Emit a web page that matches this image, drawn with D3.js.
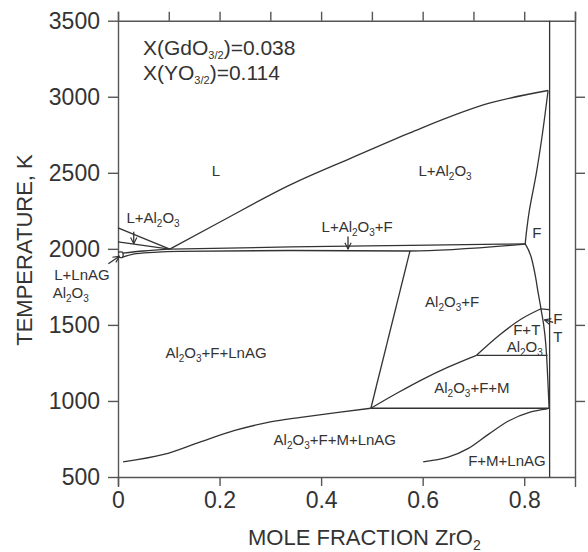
<!DOCTYPE html>
<html>
<head>
<meta charset="utf-8">
<script src="https://cdn.jsdelivr.net/npm/d3@7"></script>
<style>
  body { margin: 0; background: #fff; }
  svg { font-family: "Liberation Sans", Arial, sans-serif; }
  .axis path, .axis line { stroke: #555; stroke-width: 1.4; }
  .axis text { fill: #333; font-size: 23px; }
  .phase { fill: none; stroke: #333; stroke-width: 1.3; }
  .lbl { fill: #333; font-size: 15px; }
</style>
</head>
<body>
<svg id="chart" width="588" height="552"></svg>
<script>
// phase boundaries, [mole fraction ZrO2, temperature K]
const liquidus = [[0.102,1998],[0.2,2175],[0.34,2422],[0.46,2598],[0.575,2763],[0.733,2959],[0.847,3041]];
const fUpper = [[0.847,3041],[0.836,2760],[0.824,2500],[0.81,2250],[0.804,2100],[0.802,2033]];
const fLower = [[0.802,2033],[0.815,1930],[0.822,1820],[0.828,1700],[0.833,1606],[0.844,1300],[0.849,952]];
const al2o3Upper = [[0,2138],[0.102,1998]];
const al2o3Lower = [[0,2046],[0.102,1998]];
const solidusUpper = [[0.102,1998],[0.34,2013],[0.575,2023],[0.802,2033]];
const solidusLower = [[0.009,1945],[0.03,1965],[0.07,1977],[0.12,1984],[0.34,1989],[0.575,1986],[0.802,2031]];
const lnagTop = [[0.009,1972],[0.05,1986],[0.102,1998]];
const lnagBox = [[0,1978],[0.009,1978],[0.009,1945],[0,1945]];
const al2o3FLeft = [[0.575,1986],[0.498,952]];
const fmBoundary = [[0.498,952],[0.55,1052],[0.6,1142],[0.65,1222],[0.706,1300]];
const ftBoundary = [[0.706,1300],[0.752,1435],[0.795,1540],[0.833,1606]];
const tTop = [[0.833,1606],[0.849,1600]];
const iso1300 = [[0.706,1300],[0.846,1300]];
const iso952 = [[0.498,952],[0.849,952]];
const lnagSolvus = [[0.01,600],[0.09,648],[0.16,728],[0.23,806],[0.30,862],[0.36,892],[0.43,923],[0.498,952]];
const fmlSolvus = [[0.601,600],[0.65,630],[0.69,688],[0.73,782],[0.77,870],[0.81,925],[0.846,948]];
const zrLimit = [[0.85,3500],[0.85,500]];
const curves = [liquidus, fUpper, fLower, al2o3Upper, al2o3Lower, solidusUpper, solidusLower,
  lnagTop, lnagBox, al2o3FLeft, fmBoundary, ftBoundary, tTop, iso1300, iso952, lnagSolvus, fmlSolvus, zrLimit];

// phase labels: text parts [text, isSubscript], position in data coords
const labels = [
  {parts: [["L",0]], x: 0.193, t: 2514},
  {parts: [["L+Al",0],["2",1],["O",0],["3",1]], x: 0.644, t: 2514},
  {parts: [["L+Al",0],["2",1],["O",0],["3",1]], x: 0.069, t: 2205},
  {parts: [["L+Al",0],["2",1],["O",0],["3",1],["+F",0]], x: 0.471, t: 2146},
  {parts: [["F",0]], x: 0.825, t: 2107},
  {parts: [["L+LnAG",0]], x: -0.071, t: 1831},
  {parts: [["Al",0],["2",1],["O",0],["3",1]], x: -0.093, t: 1713},
  {parts: [["Al",0],["2",1],["O",0],["3",1],["+F+LnAG",0]], x: 0.193, t: 1319},
  {parts: [["Al",0],["2",1],["O",0],["3",1],["+F",0]], x: 0.658, t: 1654},
  {parts: [["F+T",0]], x: 0.805, t: 1470},
  {parts: [["Al",0],["2",1],["O",0],["3",1]], x: 0.801, t: 1359},
  {parts: [["Al",0],["2",1],["O",0],["3",1],["+F+M",0]], x: 0.697, t: 1090},
  {parts: [["Al",0],["2",1],["O",0],["3",1],["+F+M+LnAG",0]], x: 0.427, t: 749},
  {parts: [["F+M+LnAG",0]], x: 0.766, t: 605},
  {parts: [["F",0]], x: 0.866, t: 1542},
  {parts: [["T",0]], x: 0.866, t: 1424}
];
const arrows = [
  [[0.031,2113],[0.031,2034]],
  [[0.453,2081],[0.453,1999]],
  [[-0.019,1902],[0.0026,1951]],
  [[0.857,1516],[0.840,1533]]
];

const xTicks = [0, 0.2, 0.4, 0.6, 0.8];
const yTicks = [500, 1000, 1500, 2000, 2500, 3000, 3500];

const svg = d3.select("#chart");
const x = d3.scaleLinear().domain([0, 0.9]).range([118, 575]);
const y = d3.scaleLinear().domain([500, 3500]).range([477, 20.7]);

svg.append("g").attr("class", "axis")
  .attr("transform", "translate(0," + y(500) + ")")
  .call(d3.axisBottom(x).tickValues(xTicks).tickSize(9).tickSizeOuter(10).tickPadding(6)
    .tickFormat(d => d === 0 ? "0" : d3.format(".1f")(d)));
svg.append("g").attr("class", "axis")
  .attr("transform", "translate(0," + y(3500) + ")")
  .call(d3.axisTop(x).tickValues(d3.range(0, 0.95, 0.1)).tickSize(9).tickSizeOuter(9).tickFormat(""));
svg.append("g").attr("class", "axis")
  .attr("transform", "translate(" + x(0) + ",0)")
  .call(d3.axisLeft(y).tickValues(yTicks).tickSize(10).tickSizeOuter(0).tickPadding(8).tickFormat(d3.format("d")));
svg.append("g").attr("class", "axis")
  .attr("transform", "translate(" + x(0.9) + ",0)")
  .call(d3.axisRight(y).tickValues([1000, 1500, 2000, 2500, 3000]).tickSize(10).tickSizeOuter(0).tickFormat(""));

const line = d3.line().x(d => x(d[0])).y(d => y(d[1])).curve(d3.curveMonotoneX);
const straight = d3.line().x(d => x(d[0])).y(d => y(d[1]));

svg.append("g").selectAll("path")
  .data(curves)
  .enter().append("path")
  .attr("class", "phase")
  .attr("d", d => {
    const mono = d.every((p, i) => i === 0 || p[0] > d[i - 1][0]);
    return mono && d.length > 2 ? line(d) : d3.line().x(p => x(p[0])).y(p => y(p[1])).curve(d3.curveCatmullRom)(d);
  });

svg.append("defs").append("marker")
  .attr("id", "head").attr("viewBox", "0 0 10 10").attr("refX", 9).attr("refY", 5)
  .attr("markerWidth", 6).attr("markerHeight", 6).attr("orient", "auto")
  .append("path").attr("d", "M1,1 L9,5 L1,9").attr("fill", "none").attr("stroke", "#333").attr("stroke-width", 1.5);

svg.append("g").selectAll("path")
  .data(arrows)
  .enter().append("path")
  .attr("class", "phase")
  .attr("stroke-width", 1)
  .attr("marker-end", "url(#head)")
  .attr("d", straight);

const lbl = svg.append("g").selectAll("text")
  .data(labels)
  .enter().append("text")
  .attr("class", "lbl")
  .attr("text-anchor", "middle")
  .attr("x", d => x(d.x))
  .attr("y", d => y(d.t) + 5.4);
lbl.each(function (d) {
  const t = d3.select(this);
  let sub = false;
  d.parts.forEach(p => {
    const s = t.append("tspan").text(p[0]);
    if (p[1] && !sub) { s.attr("dy", 4).attr("font-size", "10px"); sub = true; }
    else if (p[1] && sub) { s.attr("font-size", "10px"); }
    else if (!p[1] && sub) { s.attr("dy", -4); sub = false; }
  });
});

// composition note
const note = [["X(GdO", "3/2", ")=0.038"], ["X(YO", "3/2", ")=0.114"]];
note.forEach((n, i) => {
  const t = svg.append("text").attr("x", 143).attr("y", 55 + i * 25)
    .attr("fill", "#333").attr("font-size", "21px");
  t.append("tspan").text(n[0]);
  t.append("tspan").text(n[1]).attr("font-size", "11px").attr("dy", 4);
  t.append("tspan").text(n[2]).attr("dy", -4);
});

svg.append("text")
  .attr("transform", "translate(32,250) rotate(-90)")
  .attr("text-anchor", "middle").attr("fill", "#333").attr("font-size", "22px")
  .text("TEMPERATURE, K");

const xt = svg.append("text").attr("x", 248).attr("y", 545).attr("fill", "#333").attr("font-size", "22px");
xt.append("tspan").text("MOLE FRACTION ZrO");
xt.append("tspan").text("2").attr("font-size", "14px").attr("dy", 5);
</script>
</body>
</html>
